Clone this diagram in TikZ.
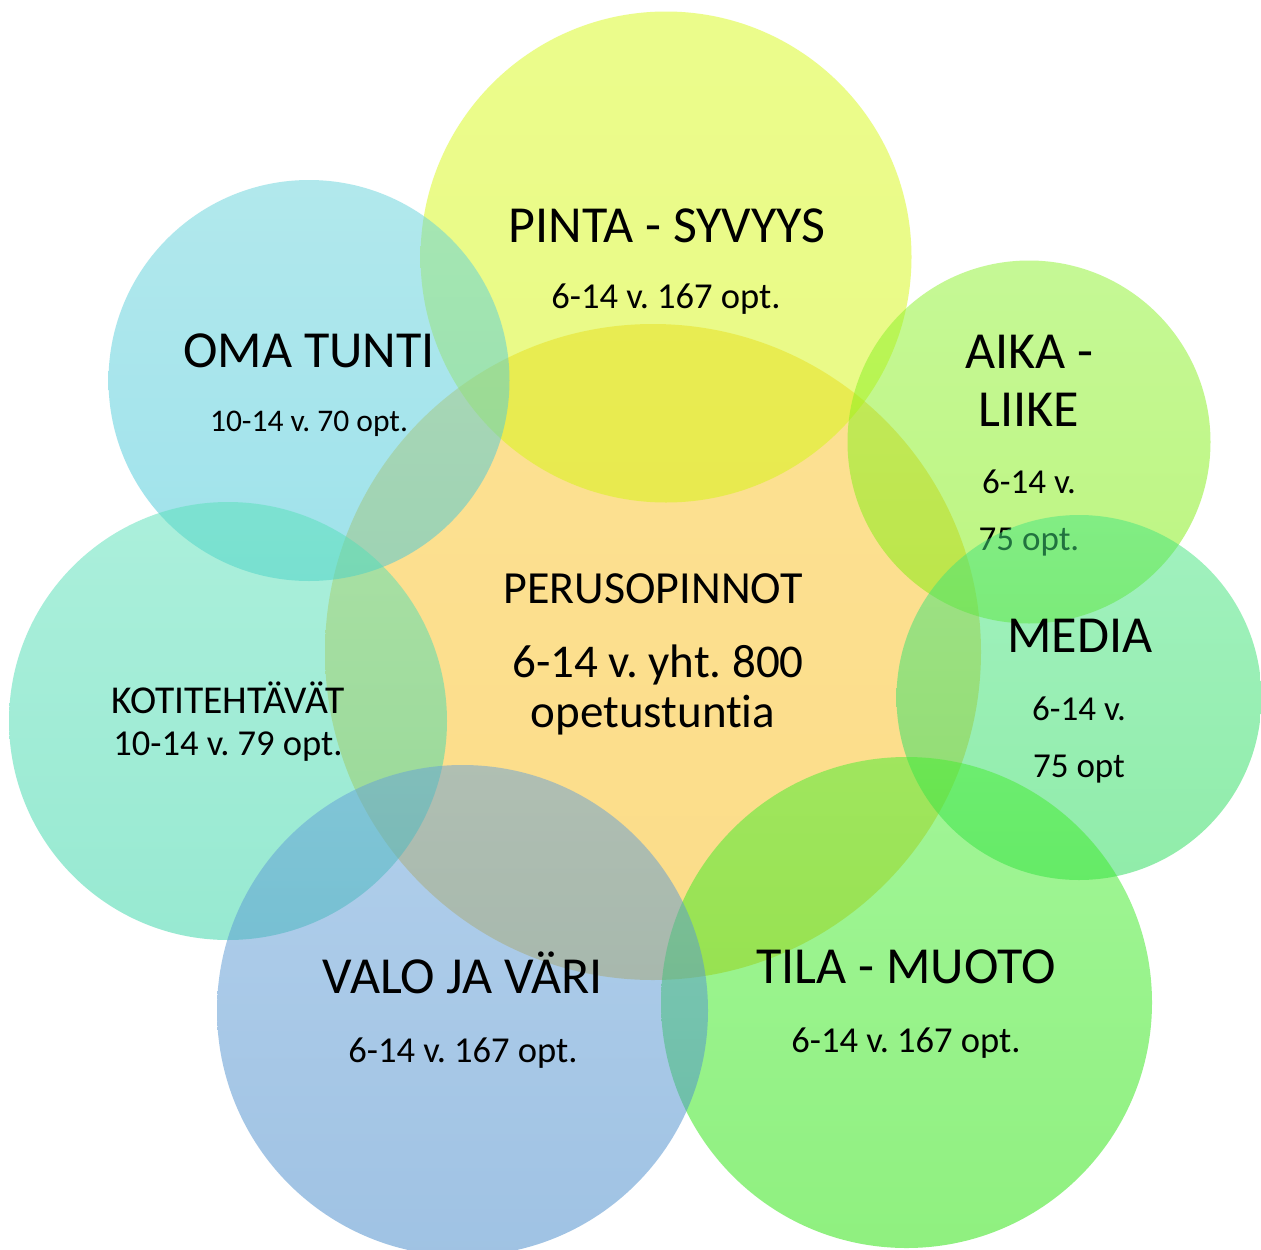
\documentclass[tikz,border=0pt]{standalone}
\usepackage{fontspec}
\setmainfont{Carlito}[Ligatures={NoCommon,NoRare,NoContextual}]
\frenchspacing
\begin{document}
\begin{tikzpicture}[x=1pt,y=-1pt,
  blob/.style={fill opacity=0.5, draw=none, shading angle=0},
  big/.style={anchor=base, font=\fontsize{52}{58}\selectfont, inner sep=0pt, text=black},
  small/.style={anchor=base, font=\fontsize{36.5}{40}\selectfont, inner sep=0pt, text=black},
  mid/.style={anchor=base, font=\fontsize{47}{54}\selectfont, inner sep=0pt, text=black}]
\definecolor{cenT}{RGB}{251,197,40}\definecolor{cenB}{RGB}{249,187,20}
\definecolor{pinT}{RGB}{217,251,25}\definecolor{pinB}{RGB}{213,245,15}
\definecolor{omaT}{RGB}{101,211,219}\definecolor{omaB}{RGB}{65,199,217}
\definecolor{kotT}{RGB}{89,225,185}\definecolor{kotB}{RGB}{49,213,165}
\definecolor{aikT}{RGB}{141,243,45}\definecolor{aikB}{RGB}{125,237,5}
\definecolor{medT}{RGB}{69,229,129}\definecolor{medB}{RGB}{35,219,85}
\definecolor{tilT}{RGB}{69,237,49}\definecolor{tilB}{RGB}{33,227,1}
\definecolor{valT}{RGB}{101,161,217}\definecolor{valB}{RGB}{65,135,201}
\useasboundingbox (0,0) rectangle (1261,1250);
\fill[white] (0,0) rectangle (1261,1250);
\begin{scope}
\clip (0,0) rectangle (1261,1250);
% centre
\shade[blob, top color=cenT, bottom color=cenB] (653,652) circle (328);
\node[mid] (c1) at (653,603) {\fontsize{46}{50}\selectfont PERUSOPINNOT};
\node[mid] (c2) at (658,677) {6-14 v. yht. 800};
\node[mid] (c3) at (653,727) {opetustuntia};
% pinta
\shade[blob, top color=pinT, bottom color=pinB] (666,257) circle (245.5);
\node[big] (p1) at (667,242) {PINTA - SYVYYS};
\node[small] (p2) at (666,308) {6-14 v. 167 opt.};
% oma
\shade[blob, top color=omaT, bottom color=omaB] (309,380.5) circle (200.5);
\node[big] (o1) at (309,367) {OMA TUNTI};
\node[small,font=\fontsize{31.5}{36}\selectfont] (o2) at (309,431) {10-14 v. 70 opt.};
% koti
\shade[blob, top color=kotT, bottom color=kotB] (228,721) circle (219);
\node[small,font=\fontsize{39.5}{44}\selectfont] (k1) at (228,713) {KOTITEHTÄVÄT};
\node[small] (k2) at (228,755) {10-14 v. 79 opt.};
% aika
\shade[blob, top color=aikT, bottom color=aikB] (1029,442) circle (181.5);
\node[big] (a1) at (1029,368) {AIKA -};
\node[big] (a2) at (1029,426) {LIIKE};
\node[small,font=\fontsize{35}{40}\selectfont] (a3) at (1029,493) {6-14 v.};
\node[small,font=\fontsize{35}{40}\selectfont] (a4) at (1029,550) {75 opt.};
% media
\shade[blob, top color=medT, bottom color=medB] (1079,697.5) circle (182.5);
\node[big] (m1) at (1080,652) {MEDIA};
\node[small,font=\fontsize{35}{40}\selectfont] (m2) at (1079,720) {6-14 v.};
\node[small,font=\fontsize{35}{40}\selectfont] (m3) at (1079,777) {75 opt};
% tila
\shade[blob, top color=tilT, bottom color=tilB] (906.5,1002.5) circle (245.5);
\node[big] (t1) at (906,983) {TILA - MUOTO};
\node[small] (t2) at (906,1052) {6-14 v. 167 opt.};
% valo
\shade[blob, top color=valT, bottom color=valB] (462.5,1010.5) circle (245.5);
\node[big] (v1) at (463,993) {VALO JA VÄRI};
\node[small] (v2) at (463,1062) {6-14 v. 167 opt.};
\end{scope}
\end{tikzpicture}
\end{document}
